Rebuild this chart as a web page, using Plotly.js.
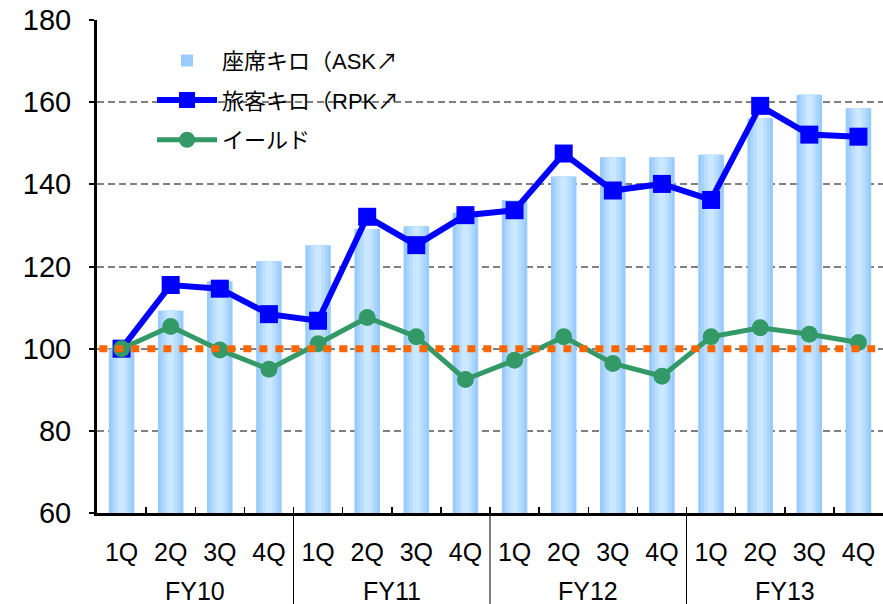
<!DOCTYPE html>
<html>
<head>
<meta charset="utf-8">
<script src="https://cdn.plot.ly/plotly-3.0.1.min.js"></script>
<style>html,body{margin:0;padding:0;background:#fff;}#chart{width:883px;height:604px;}</style>
</head>
<body>
<div id="chart"></div>
<script>
// ---- data ----
const fiscalYears = ['FY10', 'FY11', 'FY12', 'FY13'];
const quarters = ['1Q', '2Q', '3Q', '4Q'];
const askValues = [100, 109.2, 116.4, 121.3, 125.2, 129.1, 129.8, 133.1, 136.2, 141.9, 146.6, 146.6, 147.2, 156.1, 161.8, 158.5];
const rpkValues = [100, 115.5, 114.6, 108.4, 106.8, 132.1, 125.2, 132.5, 133.7, 147.5, 138.5, 140.1, 136.2, 159.1, 152.1, 151.6];
const yieldValues = [100, 105.4, 99.7, 95.0, 101.2, 107.6, 102.9, 92.5, 97.2, 102.9, 96.4, 93.3, 102.9, 105.1, 103.5, 101.5];
const baseline = 100;
const seriesNames = ['座席キロ（ASK↗', '旅客キロ（RPK↗', 'イールド'];

// ---- build category keys (unique) with quarter tick labels ----
const keys = [], tickText = [];
fiscalYears.forEach(fy => quarters.forEach(q => { keys.push(fy + ' ' + q); tickText.push(q); }));

// gradient-like bars: overlapping bars of decreasing width
const barLayers = [
  {w: 0.52, c: '#99CBFC'},
  {w: 0.40, c: '#A9D4FE'},
  {w: 0.28, c: '#BADEFF'},
  {w: 0.14, c: '#CAE8FF'}
];
const traces = barLayers.map((b, i) => ({
  type: 'bar', x: keys, y: askValues, width: b.w,
  marker: {color: b.c, line: {width: 0}},
  name: seriesNames[0], showlegend: i === 0, legendgroup: 'ask',
  hoverinfo: 'skip'
}));

traces.push({
  type: 'scatter', mode: 'lines+markers', x: keys, y: rpkValues,
  name: seriesNames[1], legendgroup: 'rpk',
  line: {color: '#0000FF', width: 6},
  marker: {symbol: 'square', size: 18, color: '#0000FF'}
});
traces.push({
  type: 'scatter', mode: 'lines+markers', x: keys, y: yieldValues,
  name: seriesNames[2], legendgroup: 'yld',
  line: {color: '#339966', width: 5},
  marker: {symbol: 'circle', size: 17, color: '#339966'}
});

// plot geometry helpers (paper fractions)
const PLOT_TOP = 20, PLOT_BOTTOM = 513, H = 604;
const plotH = PLOT_BOTTOM - PLOT_TOP;
const fyLabelY = -(591 - PLOT_BOTTOM) / plotH;
const dividerBottom = -(H - PLOT_BOTTOM) / plotH;

const annotations = fiscalYears.map((fy, g) => ({
  xref: 'x', yref: 'paper',
  x: g * quarters.length + (quarters.length - 1) / 2,
  y: fyLabelY, yanchor: 'middle', xanchor: 'center',
  text: fy, showarrow: false,
  font: {size: 25, family: 'Liberation Sans, Arial, sans-serif', color: '#000'}
}));

const shapes = fiscalYears.slice(1).map((fy, i) => ({
  type: 'line', xref: 'x', yref: 'paper',
  x0: (i + 1) * quarters.length - 0.5, x1: (i + 1) * quarters.length - 0.5,
  y0: 0, y1: dividerBottom,
  line: {color: '#000', width: 1}
}));
shapes.push({
  type: 'line', xref: 'paper', yref: 'y', x0: 0.003, x1: 0.99, y0: baseline, y1: baseline,
  layer: 'above',
  line: {color: '#FF6600', width: 7, dash: '8px,8px'}
});

const layout = {
  width: 883, height: 604,
  margin: {l: 97, r: 0, t: PLOT_TOP, b: H - PLOT_BOTTOM},
  paper_bgcolor: '#fff', plot_bgcolor: '#fff',
  barmode: 'overlay',
  font: {family: 'Liberation Sans, Arial, sans-serif', color: '#000'},
  showlegend: true,
  legend: {
    x: 0.07, y: 0.96, xanchor: 'left', yanchor: 'top',
    bgcolor: 'rgba(0,0,0,0)', borderwidth: 0,
    font: {size: 22, family: 'Liberation Sans, "Noto Sans CJK JP", sans-serif', color: '#000'},
    traceorder: 'grouped', tracegroupgap: 8, itemwidth: 60
  },
  xaxis: {
    type: 'category',
    range: [-0.5, keys.length - 0.5],
    tickmode: 'array', tickvals: keys, ticktext: tickText,
    tickson: 'boundaries',
    showline: true, linecolor: '#000', linewidth: 3,
    ticks: 'inside', ticklen: 6, tickwidth: 1.5, tickcolor: '#000',
    ticklabelstandoff: 15,
    showgrid: false,
    tickfont: {size: 25, family: 'Liberation Sans, Arial, sans-serif', color: '#000'},
    fixedrange: true
  },
  yaxis: {
    range: [60, 180], dtick: 20, tick0: 60,
    showline: true, linecolor: '#000', linewidth: 3,
    ticks: 'outside', ticklen: 5, tickwidth: 2, tickcolor: '#000',
    showgrid: true, gridcolor: '#808080', gridwidth: 2, griddash: '7px,4px',
    zeroline: false,
    ticklabelstandoff: 12,
    tickfont: {size: 29, family: 'Liberation Sans, Arial, sans-serif', color: '#000'},
    fixedrange: true
  },
  annotations: annotations,
  shapes: shapes
};

Plotly.newPlot('chart', traces, layout, {displayModeBar: false, staticPlot: true});
</script>
</body>
</html>
